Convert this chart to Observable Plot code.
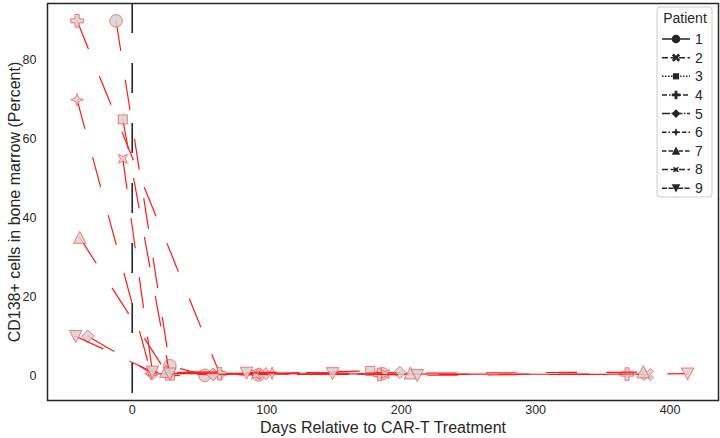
<!DOCTYPE html>
<html><head><meta charset="utf-8">
<script src="https://cdn.jsdelivr.net/npm/d3@7"></script>
<script src="https://cdn.jsdelivr.net/npm/@observablehq/plot@0.6"></script>
<style>
body{margin:0;background:#fff;}
#chart{position:relative;width:720px;height:438px;}
</style>
</head><body><div id="chart"></div>
<script>
// ---- data ----
const patients = ["1","2","3","4","5","6","7","8","9"];
const patientOf = [
  "1","1","1","1","1",
  "2","2","2",
  "3","3","3",
  "4","4","4","4",
  "5","5","5","5",
  "6","6","6",
  "7","7","7","7",
  "8","8","8","8",
  "9","9","9","9","9","9","9"
];
const days = [
  -12, 28, 54, 94, 186,
  63, 97, 383,
  -7, 28, 177,
  -41, 65, 184, 368,
  -33, 15, 60, 199,
  -41, 14, 104,
  -39, 25, 207, 380,
  -7, 15, 92, 188,
  -42, 15, 28, 85, 149, 212, 413
];
const pct = [
  90, 2.5, 0.1, 0.2, 0.5,
  0.3, 0.5, 0.3,
  65, 0, 1.2,
  90, 0.5, 0.3, 0.4,
  10, 0.5, 0.3, 0.8,
  70, 0.5, 0.6,
  35, 1, 0.6, 0.9,
  55, 1, 0.3, 0.4,
  10, 1, 0.5, 0.7, 0.6, 0.1, 0.5
];
const xTicks = [0, 100, 200, 300, 400];
const yTicks = [0, 20, 40, 60, 80];
const xLabel = "Days Relative to CAR-T Treatment";
const yLabel = "CD138+ cells in bone marrow (Percent)";
const legendTitle = "Patient";
const legendDashes = ["", "6,2.5", "1.5,1.5", "5,2,1.5,2", "8,1.5,1.5,1.5", "4.5,2,1.5,2", "4.5,2,4.5,2,1.5,2", "6,2.5", "5,1.5,5,1.5,1.5,1.5"];

// ---- marker shapes (seaborn default style markers) ----
function poly(pts){
  return {draw(ctx, size){
    const r = Math.sqrt(size/Math.PI);
    pts.forEach(([x,y],i)=> i ? ctx.lineTo(x*r,y*r) : ctx.moveTo(x*r,y*r));
    ctx.closePath();
  }};
}
function plusPts(a){ return [[-a,-1],[a,-1],[a,-a],[1,-a],[1,a],[a,a],[a,1],[-a,1],[-a,a],[-1,a],[-1,-a],[-a,-a]]; }
function rot(pts, deg){ const t=deg*Math.PI/180, c=Math.cos(t), s=Math.sin(t); return pts.map(([x,y])=>[x*c-y*s, x*s+y*c]); }
function star4(offsetDeg){
  const pts=[];
  for(let k=0;k<8;k++){
    const ang=(-90+offsetDeg+k*45)*Math.PI/180;
    const rr = k%2===0 ? 1 : 0.38;
    pts.push([rr*Math.cos(ang), rr*Math.sin(ang)]);
  }
  return pts;
}
const symX = poly(rot(plusPts(0.3).map(([x,y])=>[x*1.05,y*1.05]), 45));
const symbolsByPatient = {
  "1": d3.symbolCircle,
  "2": symX,
  "3": poly([[-0.72,-0.72],[0.72,-0.72],[0.72,0.72],[-0.72,0.72]]),
  "4": poly(plusPts(0.33)),
  "5": poly([[0,-1],[1,0],[0,1],[-1,0]]),
  "6": poly(star4(0)),
  "7": poly([[0,-1],[1,0.9],[-1,0.9]]),
  "8": poly(star4(45)),
  "9": poly([[0,1],[1,-0.9],[-1,-0.9]])
};

const data = days.map((d,i)=>({patient: patientOf[i], day: d, pct: pct[i]}));

const marks = [
  Plot.ruleX([0], {stroke:"#262626", strokeWidth:1.6, strokeDasharray:"30,30"}),
  ...patients.flatMap(p => {
    const sub = data.filter(d => d.patient === p);
    return [
      Plot.line(sub, {x:"day", y:"pct", stroke:"#ff1a1a", strokeWidth:1.2, strokeDasharray:"30,30"}),
      Plot.dot(sub, {x:"day", y:"pct", symbol: symbolsByPatient[p], r:6.3,
        fill:"#d4d4d4", fillOpacity:0.85, stroke:"#ff4d4d", strokeOpacity:0.75, strokeWidth:1})
    ];
  }),
  Plot.axisX(xTicks, {tickSize:0, tickPadding:5, fontSize:12.5, label:null}),
  Plot.axisY(yTicks, {tickSize:0, tickPadding:11, fontSize:12.5, label:null}),
  Plot.text([xLabel], {frameAnchor:"bottom", lineAnchor:"middle", textAnchor:"middle", dy:27.5, fontSize:16, text:d=>d, fill:"#262626"}),
  Plot.text([yLabel], {frameAnchor:"left", lineAnchor:"middle", textAnchor:"middle", dx:-33, rotate:-90, fontSize:16, text:d=>d, fill:"#262626"}),
  Plot.frame({stroke:"#262626", strokeWidth:1.5})
];

const svg = Plot.plot({
  width:720, height:438,
  marginLeft:47, marginRight:2, marginTop:3, marginBottom:38,
  style:{fontFamily:"'Liberation Sans', Arial, sans-serif", fontSize:"12.5px", color:"#262626", background:"#fff"},
  x:{domain:[-63, 436]},
  y:{domain:[-6.3, 94.4]},
  marks
});
document.getElementById("chart").appendChild(svg);

// ---- legend (overlay inside the axes, top-right) ----
const g = d3.select(svg).append("g").attr("font-family","'Liberation Sans', Arial, sans-serif");
g.append("rect").attr("x",657).attr("y",7).attr("width",55).attr("height",190).attr("rx",3)
  .attr("fill","#fff").attr("fill-opacity",0.8).attr("stroke","#cccccc").attr("stroke-width",1);
g.append("text").attr("x",685).attr("y",18).attr("dy","0.35em").attr("text-anchor","middle")
  .attr("font-size",14).attr("fill","#262626").text(legendTitle);
patients.forEach((p,i)=>{
  const y = 39 + i*18.65;
  g.append("line").attr("x1",662).attr("x2",690).attr("y1",y).attr("y2",y)
    .attr("stroke","#262626").attr("stroke-width",1.5).attr("stroke-dasharray",legendDashes[i] || null);
  g.append("path").attr("transform",`translate(676,${y})`)
    .attr("d", d3.symbol(symbolsByPatient[p], Math.PI*4.3*4.3)())
    .attr("fill","#262626");
  g.append("text").attr("x",699).attr("y",y).attr("dy","0.35em").attr("font-size",14)
    .attr("fill","#262626").text(p);
});
</script>
</body></html>
